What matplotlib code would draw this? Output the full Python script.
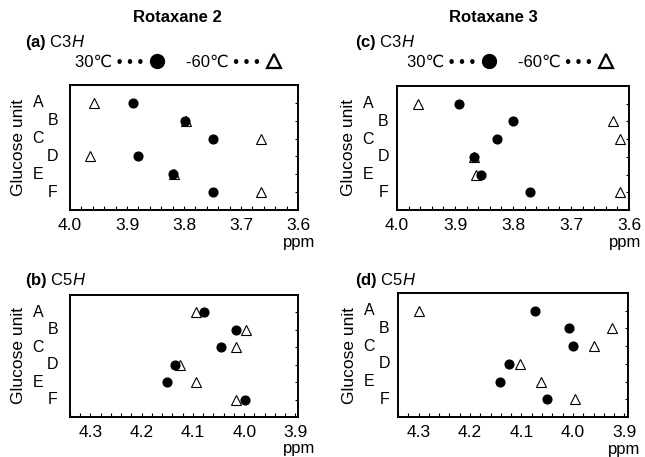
import matplotlib
matplotlib.use('Agg')
import matplotlib.pyplot as plt
from matplotlib.lines import Line2D
from matplotlib.ticker import MultipleLocator, FormatStrFormatter

plt.rcParams['font.family'] = ['Liberation Sans', 'DejaVu Sans']
plt.rcParams['mathtext.fontset'] = 'custom'
plt.rcParams['mathtext.rm'] = 'Liberation Sans'
plt.rcParams['mathtext.it'] = 'Liberation Sans:italic'
plt.rcParams['mathtext.bf'] = 'Liberation Sans:bold'

# glucose units, top to bottom
units = ['A', 'B', 'C', 'D', 'E', 'F']
rows = [1, 2, 3, 4, 5, 6]

# chemical shifts (ppm)
rot2_c3_30 = [3.889, 3.798, 3.750, 3.881, 3.820, 3.750]
rot2_c3_m60 = [3.958, 3.797, 3.665, 3.965, 3.818, 3.665]
rot2_c5_30 = [4.079, 4.016, 4.046, 4.136, 4.151, 3.998]
rot2_c5_m60 = [4.095, 3.996, 4.016, 4.126, 4.095, 4.016]
rot3_c3_30 = [3.893, 3.800, 3.828, 3.867, 3.856, 3.770]
rot3_c3_m60 = [3.963, 3.628, 3.616, 3.868, 3.864, 3.615]
rot3_c5_30 = [4.074, 4.008, 4.000, 4.125, 4.141, 4.051]
rot3_c5_m60 = [4.300, 3.924, 3.959, 4.103, 4.063, 3.996]

W, H = 645, 457
fig = plt.figure(figsize=(W / 100, H / 100), dpi=100)


def px_axes(x0, y0, x1, y1):
    return fig.add_axes([x0 / W, 1 - y1 / H, (x1 - x0) / W, (y1 - y0) / H])


ax_a = px_axes(70, 85, 298, 210)
ax_b = px_axes(70, 295, 298, 417)
ax_c = px_axes(397, 86, 629, 210)
ax_d = px_axes(398, 293, 628, 417)

panels = [
    (ax_a, rot2_c3_30, rot2_c3_m60, (4.0, 3.6), 'left'),
    (ax_b, rot2_c5_30, rot2_c5_m60, (4.34, 3.895), 'left'),
    (ax_c, rot3_c3_30, rot3_c3_m60, (4.0, 3.6), 'right'),
    (ax_d, rot3_c5_30, rot3_c5_m60, (4.34, 3.893), 'right'),
]

for ax, v30, vm60, xl, side in panels:
    ax.plot(vm60, rows, ls='none', marker='^', ms=6.5, mfc='white',
            mec='black', mew=0.8, zorder=3)
    ax.plot(v30, rows, ls='none', marker='o', ms=6.3, color='black', zorder=4)
    ax.set_xlim(*xl)
    ax.set_ylim(7, 0)
    ax.set_yticks(rows)
    ax.tick_params(axis='y', left=False, labelleft=False, right=True,
                   direction='in', length=2, width=0.8)
    ax.xaxis.set_major_locator(MultipleLocator(0.1))
    ax.xaxis.set_minor_locator(MultipleLocator(0.02))
    ax.xaxis.set_major_formatter(FormatStrFormatter('%.1f'))
    ax.tick_params(axis='x', which='both', direction='in', length=3,
                   width=0.8, labelsize=12.5, pad=6)
    for s in ax.spines.values():
        s.set_linewidth(1.4)
    if side == 'left':
        offs = (-0.140, -0.075)
        glx = -0.224
    else:
        offs = (-0.124, -0.059)
        glx = -0.21
    for i, (u, r) in enumerate(zip(units, rows)):
        ax.text(offs[i % 2], r, u, transform=ax.get_yaxis_transform(),
                ha='center', va='center', fontsize=11.5)
    ax.text(glx, 0.5, 'Glucose unit', transform=ax.transAxes, rotation=90,
            ha='center', va='center', fontsize=12.5)
    ax.text(1.075 if side == 'left' else 1.055, -0.26, 'ppm',
            transform=ax.transAxes, ha='right', va='center', fontsize=12)

fig.text(177 / W, 1 - 18 / H, 'Rotaxane 2', ha='center', va='center',
         fontsize=12, fontweight='bold')
fig.text(493 / W, 1 - 18 / H, 'Rotaxane 3', ha='center', va='center',
         fontsize=12, fontweight='bold')

for lbl, x, y in [('(a)', 25, 43), ('(c)', 355, 43)]:
    fig.text(x / W, 1 - y / H, r'$\mathbf{%s}\ \mathrm{C3}\mathit{H}$' % lbl,
             ha='left', va='center', fontsize=12)
for lbl, x, y in [('(b)', 25, 281), ('(d)', 355, 281)]:
    fig.text(x / W, 1 - y / H, r'$\mathbf{%s}\ \mathrm{C5}\mathit{H}$' % lbl,
             ha='left', va='center', fontsize=12)

h30 = Line2D([], [], ls='none', marker='o', ms=10, color='black')
hm60 = Line2D([], [], ls='none', marker='^', ms=10.5, mfc='white',
              mec='black', mew=1.6)
for ax, x0 in [(ax_a, 75), (ax_c, 407)]:
    ax.legend([h30, hm60],
              ['30\u2103 \u2022 \u2022 \u2022', '-60\u2103 \u2022 \u2022 \u2022'],
              ncol=2, markerfirst=False, frameon=False, loc='center left',
              bbox_to_anchor=(x0 / W, 1 - 62 / H), bbox_transform=fig.transFigure,
              borderpad=0, borderaxespad=0, handlelength=1.2, handletextpad=0.25,
              columnspacing=1.1, fontsize=12)

fig.savefig('out.png', dpi=100)
